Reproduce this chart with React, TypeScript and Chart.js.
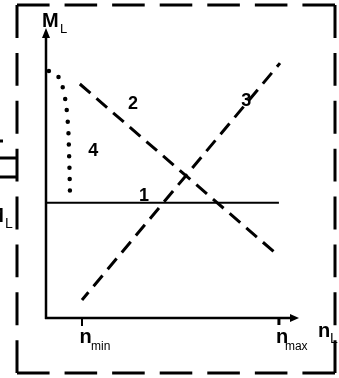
import React, { useEffect, useRef } from "react";
import { Chart, registerables } from "chart.js";

Chart.register(...registerables);

// ---- data (abstract units: n on x, M on y) ----
const X_RANGE = [0, 7];
const Y_RANGE = [0, 8];
const nMin = 1;
const nMax = 6.47;

const line1X = [0, 6.47];
const line1Y = [3.2, 3.2];
const line2X = [0.94, 6.47];
const line2Y = [6.5, 1.72];
const line3X = [1.0, 6.5];
const line3Y = [0.5, 7.08];
const curve4X = [0.08, 0.33, 0.5, 0.6, 0.64, 0.67];
const curve4Y = [6.86, 6.72, 6.25, 5.5, 4.6, 3.25];

const curveNames = ["1", "2", "3", "4"];
const curveNameX = [2.72, 2.42, 5.56, 1.31];
const curveNameY = [3.39, 5.94, 6.03, 4.64];

const zip = (xs: number[], ys: number[]) => xs.map((x, i) => ({ x, y: ys[i] }));

const NARROW = '"Liberation Sans Narrow", "Liberation Sans", Arial, sans-serif';
const SANS = '"Liberation Sans", Arial, sans-serif';

function dashedSide(ctx: CanvasRenderingContext2D, x1: number, y1: number, x2: number, y2: number, dash: number, gap: number) {
  const L = Math.hypot(x2 - x1, y2 - y1);
  const n = Math.max(1, Math.round((L + gap) / (dash + gap)));
  const d = (L - (n - 1) * gap) / n;
  ctx.save();
  ctx.setLineDash([d, gap]);
  ctx.beginPath();
  ctx.moveTo(x1, y1);
  ctx.lineTo(x2, y2);
  ctx.stroke();
  ctx.restore();
}

const decorPlugin = {
  id: "decor",
  beforeDatasetsDraw(chart: any) {
    const ctx: CanvasRenderingContext2D = chart.ctx;
    const xs = chart.scales.x;
    const ys = chart.scales.y;
    const ox = xs.getPixelForValue(X_RANGE[0]);
    const oy = ys.getPixelForValue(Y_RANGE[0]);
    const xEnd = xs.getPixelForValue(X_RANGE[1]);
    const yEnd = ys.getPixelForValue(Y_RANGE[1]);
    ctx.save();
    ctx.strokeStyle = "#000";
    ctx.fillStyle = "#000";
    ctx.lineWidth = 2.5;
    ctx.lineCap = "butt";
    // axes
    ctx.beginPath();
    ctx.moveTo(ox, oy + 1);
    ctx.lineTo(ox, yEnd + 4);
    ctx.moveTo(ox - 1, oy);
    ctx.lineTo(xEnd - 4, oy);
    ctx.stroke();
    // arrowheads
    ctx.beginPath();
    ctx.moveTo(ox, yEnd - 2);
    ctx.lineTo(ox - 4, yEnd + 8);
    ctx.lineTo(ox + 4, yEnd + 8);
    ctx.closePath();
    ctx.fill();
    ctx.beginPath();
    ctx.moveTo(xEnd + 1, oy);
    ctx.lineTo(xEnd - 8, oy - 4);
    ctx.lineTo(xEnd - 8, oy + 4);
    ctx.closePath();
    ctx.fill();
    // ticks
    const tMin = xs.getPixelForValue(nMin);
    const tMax = xs.getPixelForValue(nMax);
    ctx.lineWidth = 2;
    ctx.beginPath();
    ctx.moveTo(tMin, oy);
    ctx.lineTo(tMin, oy + 8);
    ctx.stroke();
    ctx.lineWidth = 3;
    ctx.beginPath();
    ctx.moveTo(tMax, oy);
    ctx.lineTo(tMax, oy + 7);
    ctx.stroke();
    ctx.restore();
  },
  afterDraw(chart: any) {
    const ctx: CanvasRenderingContext2D = chart.ctx;
    const xs = chart.scales.x;
    const ys = chart.scales.y;
    const ox = xs.getPixelForValue(X_RANGE[0]);
    const oy = ys.getPixelForValue(Y_RANGE[0]);
    const xEnd = xs.getPixelForValue(X_RANGE[1]);
    const yEnd = ys.getPixelForValue(Y_RANGE[1]);
    ctx.save();
    ctx.fillStyle = "#000";
    ctx.strokeStyle = "#000";
    ctx.textBaseline = "alphabetic";
    ctx.textAlign = "left";

    // axis titles
    ctx.font = `bold 20px ${NARROW}`;
    ctx.fillText("M", ox - 4, yEnd - 3);
    ctx.font = `13px ${NARROW}`;
    ctx.fillText("L", ox + 14, yEnd + 3);

    ctx.font = `bold 20px ${NARROW}`;
    ctx.fillText("n", xEnd + 20, oy + 19);
    ctx.font = `14px ${NARROW}`;
    ctx.fillText("L", xEnd + 32, oy + 25);

    const tMin = xs.getPixelForValue(nMin);
    const tMax = xs.getPixelForValue(nMax);
    ctx.font = `bold 20px ${NARROW}`;
    ctx.fillText("n", tMin - 2.5, oy + 25);
    ctx.fillText("n", tMax - 3, oy + 25);
    ctx.font = `12px ${NARROW}`;
    ctx.fillText("min", tMin + 9, oy + 32);
    ctx.fillText("max", tMax + 6, oy + 32);

    // curve names
    ctx.font = `bold 18px ${SANS}`;
    ctx.textAlign = "center";
    ctx.textBaseline = "middle";
    curveNames.forEach((name, i) => {
      ctx.fillText(name, xs.getPixelForValue(curveNameX[i]), ys.getPixelForValue(curveNameY[i]));
    });

    // dashed frame around the figure
    const fl = ox - 29, fr = xEnd + 37, ft = yEnd - 25, fb = oy + 55;
    ctx.lineWidth = 3;
    ctx.lineCap = "butt";
    dashedSide(ctx, fl, ft, fr, ft, 35, 15);
    dashedSide(ctx, fl, fb, fr, fb, 35, 15);
    dashedSide(ctx, fl, ft, fl, fb, 35, 15);
    dashedSide(ctx, fr, ft, fr, fb, 35, 15);

    // clipped fragments of the neighbouring figure at the left edge
    ctx.lineWidth = 3;
    ctx.beginPath();
    ctx.moveTo(fl - 30, 158);
    ctx.lineTo(fl, 158);
    ctx.moveTo(fl - 30, 177);
    ctx.lineTo(fl, 177);
    ctx.moveTo(-5, 141);
    ctx.lineTo(3, 141);
    ctx.stroke();
    ctx.textAlign = "right";
    ctx.textBaseline = "alphabetic";
    ctx.font = `bold 20px ${NARROW}`;
    ctx.fillText("M", 4, 222);
    ctx.textAlign = "left";
    ctx.font = `14px ${NARROW}`;
    ctx.fillText("L", 5, 228);
    ctx.restore();
  },
};

export default function App() {
  const ref = useRef<HTMLCanvasElement>(null);
  useEffect(() => {
    if (!ref.current) return;
    const chart = new Chart(ref.current, {
      type: "scatter",
      data: {
        datasets: [
          {
            label: "1",
            data: zip(line1X, line1Y),
            showLine: true,
            borderColor: "#000",
            borderWidth: 2,
            pointRadius: 0,
            clip: false,
          } as any,
          {
            label: "2",
            data: zip(line2X, line2Y),
            showLine: true,
            borderColor: "#000",
            borderWidth: 3,
            borderDash: [14, 8],
            pointRadius: 0,
            clip: false,
          },
          {
            label: "3",
            data: zip(line3X, line3Y),
            showLine: true,
            borderColor: "#000",
            borderWidth: 3,
            borderDash: [14, 8],
            borderDashOffset: 4,
            pointRadius: 0,
            clip: false,
          },
          {
            label: "4",
            data: zip(curve4X, curve4Y),
            showLine: true,
            borderColor: "#000",
            borderWidth: 4.5,
            borderDash: [0, 11.5],
            borderCapStyle: "round",
            tension: 0.4,
            pointRadius: 0,
            clip: false,
          },
        ],
      },
      options: {
        animation: false,
        responsive: false,
        devicePixelRatio: 1,
        layout: { padding: { left: 46, right: 41, top: 30, bottom: 60 } },
        plugins: { legend: { display: false }, tooltip: { enabled: false }, title: { display: false } },
        events: [],
        scales: {
          x: { type: "linear", display: false, min: X_RANGE[0], max: X_RANGE[1] },
          y: { type: "linear", display: false, min: Y_RANGE[0], max: Y_RANGE[1] },
        },
      },
      plugins: [decorPlugin],
    });
    return () => chart.destroy();
  }, []);
  return (
    <div style={{ position: "fixed", left: 0, top: 0, width: 339, height: 378, background: "#fff" }}>
      <canvas ref={ref} width={339} height={378} style={{ display: "block" }} />
    </div>
  );
}
